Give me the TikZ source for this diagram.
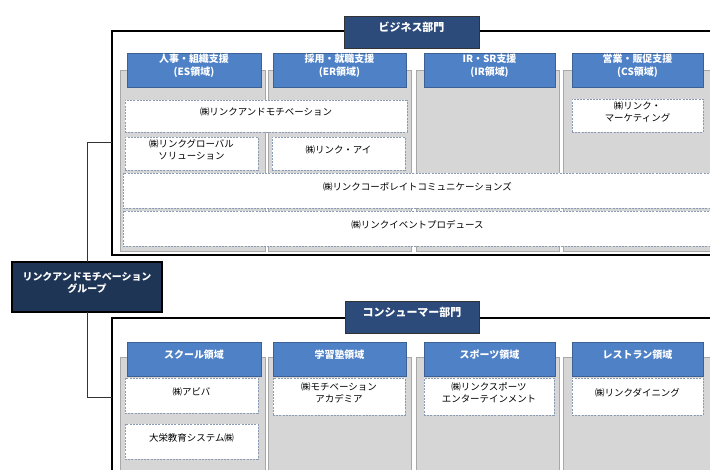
\documentclass[tikz,border=0pt]{standalone}
\usepackage{fontspec}
\setmainfont{Noto Sans CJK JP}
\usetikzlibrary{fit}
\definecolor{tblue}{HTML}{2C4A7A}
\definecolor{gblue}{HTML}{1F3556}
\definecolor{hblue}{HTML}{4F81C7}
\definecolor{cbord}{HTML}{8A9BB5}
\definecolor{gfill}{HTML}{D6D6D6}
\definecolor{gbord}{HTML}{A8A8A8}
\tikzset{
  frm/.style={draw=black, line width=1.6bp, fill=white, inner sep=0pt, outer sep=0pt},
  gcol/.style={draw=gbord, fill=gfill, line width=0.6bp, inner sep=0pt, outer sep=0pt},
  hdr/.style={draw=hblue!75!black, fill=hblue, line width=0.6bp, text=white, font=\fontsize{10}{12.5}\selectfont\bfseries, align=center, inner sep=0pt, outer sep=0pt},
  ttl/.style={draw=black!80, fill=tblue, line width=0.8bp, text=white, font=\fontsize{11}{13}\selectfont\bfseries, inner sep=0pt, outer sep=0pt},
  grpbox/.style={draw=black, fill=gblue, line width=1.4bp, text=white, font=\fontsize{10}{13}\selectfont\bfseries, align=center, inner sep=0pt, outer sep=0pt},
  cbox/.style={draw=cbord, fill=white, dash pattern=on 2bp off 1.2bp, line width=0.8bp, font=\fontsize{9.5}{12}\selectfont, align=center, inner sep=0pt, outer sep=0pt},
  conn/.style={draw=black!80, line width=1bp}
}
\newcommand\bx[5]{\node[#1, fit={(#2)(#3)}] (#4) {#5};}
\begin{document}
\begin{tikzpicture}[x=1bp,y=-1bp]
\useasboundingbox (0,0) rectangle (710,470);
\clip (0,0) rectangle (710,470);
% ---------- business section ----------
\bx{frm}{112,31}{740,255}{bizframe}{}
\bx{gcol}{120,70}{265,251}{bg1}{}
\bx{gcol}{268,70}{411,251}{bg2}{}
\bx{gcol}{416,70}{559,251}{bg3}{}
\bx{gcol}{563,70}{740,251}{bg4}{}
\bx{hdr}{127,53}{261,87}{bh1}{人事・組織支援\\(ES領域)}
\bx{hdr}{273,53}{406,87}{bh2}{採用・就職支援\\(ER領域)}
\bx{hdr}{424,53}{555,87}{bh3}{IR・SR支援\\(IR領域)}
\bx{hdr}{572,53}{703,87}{bh4}{営業・販促支援\\(CS領域)}
\bx{ttl}{344,16}{479,48}{btitle}{ビジネス部門}
\bx{cbox}{125,100}{407,132}{c1}{㈱リンクアンドモチベーション}
\bx{cbox}{125,137}{258,170}{c2}{㈱リンクグローバル\\ソリューション}
\bx{cbox}{272,137}{405,170}{c3}{㈱リンク・アイ}
\bx{cbox}{572,99}{703,132}{c4}{㈱リンク・\\マーケティング}
\bx{cbox}{123,173}{712,208}{c5}{㈱リンクコーポレイトコミュニケーションズ}
\bx{cbox}{123,211}{712,246}{c6}{㈱リンクイベントプロデュース}
% ---------- consumer section ----------
\bx{frm}{112,318}{740,476}{conframe}{}
\bx{gcol}{120,357}{265,480}{cg1}{}
\bx{gcol}{268,357}{411,480}{cg2}{}
\bx{gcol}{416,357}{559,480}{cg3}{}
\bx{gcol}{563,357}{740,480}{cg4}{}
\bx{hdr}{127,342}{261,376}{ch1}{スクール領域}
\bx{hdr}{273,342}{406,376}{ch2}{学習塾領域}
\bx{hdr}{424,342}{555,376}{ch3}{スポーツ領域}
\bx{hdr}{572,342}{703,376}{ch4}{レストラン領域}
\bx{ttl}{345,301}{479,333}{ctitle}{コンシューマー部門}
\bx{cbox}{125,378}{258,413}{d1}{㈱アビバ}
\bx{cbox}{273,378}{405,415}{d2}{㈱モチベーション\\アカデミア}
\bx{cbox}{424,378}{554,415}{d3}{㈱リンクスポーツ\\エンターテインメント}
\bx{cbox}{572,378}{703,415}{d4}{㈱リンクダイニング}
\bx{cbox}{125,424}{258,459}{d5}{大栄教育システム㈱}
% ---------- group ----------
\bx{grpbox}{12,262}{162,312}{grp}{リンクアンドモチベーション\\グループ}
\draw[conn] (grp.north) |- (bizframe.west);
\draw[conn] (grp.south) |- (conframe.west);
\end{tikzpicture}
\end{document}
